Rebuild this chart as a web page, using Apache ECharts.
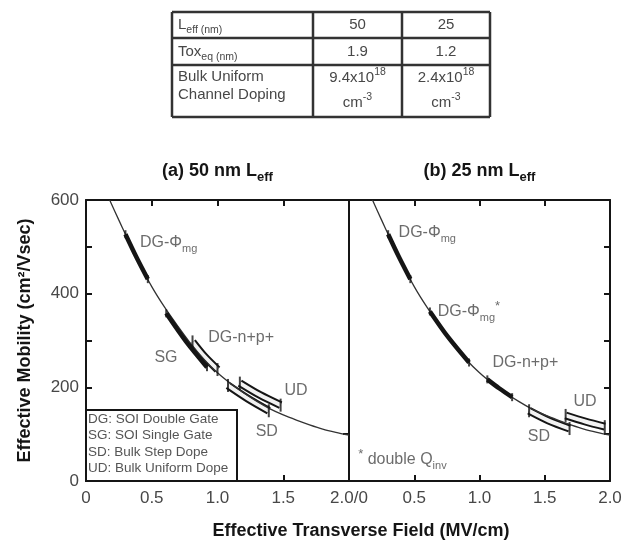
<!DOCTYPE html>
<html><head><meta charset="utf-8">
<script src="https://cdn.jsdelivr.net/npm/echarts@6/dist/echarts.min.js"></script>
<style>html,body{margin:0;padding:0;background:#fff}#c{width:625px;height:546px}</style>
</head><body><div id="c"></div>
<script>
// ---------- data ----------
const panelTitles = ['(a) 50 nm L{s|eff}', '(b) 25 nm L{s|eff}'];
const xAxisTitle = 'Effective Transverse Field (MV/cm)';
const yAxisTitle = 'Effective Mobility (cm\u00b2/Vsec)';
const fieldTickLabelsA = ['0', '0.5', '1.0', '1.5', '2.0/0'];
const fieldTickLabelsB = ['', '0.5', '1.0', '1.5', '2.0'];
const mobilityTickLabels = ['0', '200', '400', '600'];

// universal mobility curve (both panels)
const curveField    = [0.18, 0.25, 0.30, 0.40, 0.50, 0.60, 0.70, 0.80, 0.90, 1.00, 1.10, 1.20, 1.30, 1.40, 1.50, 1.60, 1.70, 1.80, 1.90, 2.00];
const curveMobility = [600, 557, 527, 469, 415, 370, 330, 292, 259, 231, 208, 188, 170, 154, 141, 130, 120, 111, 104, 98];

// panel (a) 50 nm devices
const aDGmgField = [0.30, 0.38, 0.47];   const aDGmgMob = [527, 480, 431];
const aSGField   = [0.61, 0.76, 0.92];   const aSGMob   = [358, 298, 243];
const aDGnpField = [0.81, 0.90, 1.00];   const aDGnpMob = [297, 266, 238];
const aSDField   = [1.08, 1.23, 1.39];   const aSDMob   = [204, 176, 150];
const aUDField   = [1.17, 1.32, 1.48];   const aUDMob   = [209, 184, 162];

// panel (b) 25 nm devices
const bDGmgField     = [0.30, 0.38, 0.47]; const bDGmgMob     = [527, 480, 431];
const bDGmgStarField = [0.62, 0.76, 0.92]; const bDGmgStarMob = [362, 307, 253];
const bDGnpField     = [1.06, 1.15, 1.25]; const bDGnpMob     = [217, 198, 179];
const bSDField       = [1.38, 1.53, 1.69]; const bSDMob       = [150, 129, 112];
const bUDField       = [1.66, 1.81, 1.96]; const bUDMob       = [140, 127, 116];

// annotation texts and anchors (field, mobility)
const annotA      = ['DG-\u03a6{s|mg}', 'DG-n+p+', 'SG', 'UD', 'SD'];
const annotAField = [0.41, 0.93, 0.52, 1.51, 1.29];
const annotAMob   = [510, 307, 263, 194, 105];
const annotB      = ['DG-\u03a6{s|mg}', 'DG-\u03a6{s|mg}{p|*}', 'DG-n+p+', 'UD', 'SD', '{p|*} double Q{s|inv}'];
const annotBField = [0.38, 0.68, 1.10, 1.72, 1.37, 0.07];
const annotBMob   = [530, 361, 252, 169, 94, 45];

const legendLines = ['DG: SOI Double Gate', 'SG: SOI Single Gate', 'SD: Bulk Step Dope', 'UD: Bulk Uniform Dope'];

// table
const tableRowLabels = [['L{s|eff (nm)}'], ['Tox{s|eq (nm)}'], ['Bulk Uniform', 'Channel Doping']];
const table50 = [['50'], ['1.9'], ['9.4x10{p|18}', 'cm{p|-3}']];
const table25 = [['25'], ['1.2'], ['2.4x10{p|18}', 'cm{p|-3}']];

// ---------- chart ----------
const FONT = '"Liberation Sans", Arial, sans-serif';
const INK = '#151515';
const GREY = '#474747';
const pts = (f, m) => f.map((v, i) => [v, m[i]]);
const ends = (f, m) => [[f[0], m[0]], [f[f.length - 1], m[m.length - 1]]];

const axisLine = {show: true, onZero: false, lineStyle: {color: INK, width: 2}};
const tick = {show: true, inside: true, length: 6, lineStyle: {color: INK, width: 2}};
const lbl = {fontSize: 17, color: GREY, fontFamily: FONT};

function xBottom(grid, labels) {
  return {type: 'value', gridIndex: grid, min: 0, max: 2, interval: 0.5, position: 'bottom',
    axisLine, axisTick: tick, splitLine: {show: false},
    axisLabel: Object.assign({margin: 9, showMinLabel: true, showMaxLabel: true,
      formatter: v => labels[Math.round(v / 0.5)]}, lbl)};
}
function xTop(grid, title) {
  return {type: 'value', gridIndex: grid, min: 0, max: 2, interval: 0.5, position: 'top',
    axisLine, axisTick: tick, axisLabel: {show: false}, splitLine: {show: false},
    name: title, nameLocation: 'middle', nameGap: 16,
    nameTextStyle: {fontSize: 18, fontWeight: 'bold', color: INK, fontFamily: FONT, lineHeight: 26,
      rich: {s: {fontSize: 13, fontWeight: 'bold', color: INK, fontFamily: FONT, verticalAlign: 'bottom'}}}};
}
function yAx(grid, pos, extra) {
  return Object.assign({type: 'value', gridIndex: grid, min: 0, max: 600, interval: 100, position: pos,
    axisLine, axisTick: tick, axisLabel: {show: false}, splitLine: {show: false}}, extra || {});
}

const series = [];
function curve(xi, yi) {
  series.push({type: 'line', xAxisIndex: xi, yAxisIndex: yi, data: pts(curveField, curveMobility),
    smooth: 0.3, showSymbol: false, silent: true,
    lineStyle: {color: '#333', width: 1.3}, z: 4.5});
}
function thick(xi, yi, f, m) {
  series.push({type: 'line', xAxisIndex: xi, yAxisIndex: yi, data: pts(f, m), smooth: 0.3,
    showSymbol: false, lineStyle: {color: INK, width: 4.5}, z: 5});
  series.push({type: 'scatter', xAxisIndex: xi, yAxisIndex: yi, data: ends(f, m),
    symbol: 'rect', symbolSize: [2, 8], itemStyle: {color: INK}, z: 5});
}
function band(xi, yi, f, m) {
  series.push({type: 'line', xAxisIndex: xi, yAxisIndex: yi, data: pts(f, m), smooth: 0.3,
    showSymbol: false, lineStyle: {color: INK, width: 8}, z: 3});
  series.push({type: 'line', xAxisIndex: xi, yAxisIndex: yi, data: pts(f, m), smooth: 0.3,
    showSymbol: false, lineStyle: {color: '#f2f2f2', width: 4}, z: 4});
  series.push({type: 'scatter', xAxisIndex: xi, yAxisIndex: yi, data: ends(f, m),
    symbol: 'rect', symbolSize: [2, 13], itemStyle: {color: INK}, z: 5});
}
function annots(xi, yi, texts, f, m) {
  series.push({type: 'scatter', xAxisIndex: xi, yAxisIndex: yi, symbolSize: 0, silent: true, z: 6,
    data: texts.map((t, i) => ({name: t, value: [f[i], m[i]]})),
    label: {show: true, position: 'right', distance: 0, formatter: p => p.name,
      fontSize: 16, color: GREY, fontFamily: FONT, lineHeight: 24,
      rich: {s: {fontSize: 11, color: GREY, fontFamily: FONT, verticalAlign: 'bottom'},
             p: {fontSize: 13, color: GREY, fontFamily: FONT, verticalAlign: 'top'}}}});
}

curve(0, 0); curve(1, 2);
thick(0, 0, aDGmgField, aDGmgMob);
thick(0, 0, aSGField, aSGMob);
band(0, 0, aDGnpField, aDGnpMob);
band(0, 0, aSDField, aSDMob);
band(0, 0, aUDField, aUDMob);
thick(1, 2, bDGmgField, bDGmgMob);
thick(1, 2, bDGmgStarField, bDGmgStarMob);
thick(1, 2, bDGnpField, bDGnpMob);
band(1, 2, bSDField, bSDMob);
band(1, 2, bUDField, bUDMob);
annots(0, 0, annotA, annotAField, annotAMob);
annots(1, 2, annotB, annotBField, annotBMob);

// table graphics
const tCols = [172, 313, 402, 490];
const tRows = [12, 38, 65, 117];
const graphic = [];
tCols.forEach(x => graphic.push({type: 'line', shape: {x1: x, y1: tRows[0], x2: x, y2: tRows[3]},
  style: {stroke: '#333', lineWidth: 2.5}}));
tRows.forEach(y => graphic.push({type: 'line', shape: {x1: tCols[0], y1: y, x2: tCols[3], y2: y},
  style: {stroke: '#333', lineWidth: 2.5}}));
const tRich = {s: {fontSize: 10.5, fill: GREY, fontFamily: FONT, verticalAlign: 'bottom'},
               p: {fontSize: 10.5, fill: GREY, fontFamily: FONT, verticalAlign: 'top'}};
function tText(text, x, y, align) {
  graphic.push({type: 'text', x, y, style: {text, align, verticalAlign: 'middle', fontSize: 15,
    fontFamily: FONT, fill: GREY, lineHeight: 22, rich: tRich}});
}
const rowY = [[25], [51.5], [77, 95]];
const valY = [[25], [51.5], [78, 103]];
tableRowLabels.forEach((r, i) => r.forEach((t, j) => tText(t, 178, rowY[i][j], 'left')));
table50.forEach((r, i) => r.forEach((t, j) => tText(t, (tCols[1] + tCols[2]) / 2, valY[i][j], 'center')));
table25.forEach((r, i) => r.forEach((t, j) => tText(t, (tCols[2] + tCols[3]) / 2, valY[i][j], 'center')));

// legend box
graphic.push({type: 'rect', shape: {x: 86, y: 410, width: 151, height: 71},
  style: {fill: '#fff', stroke: INK, lineWidth: 2}, z: 10});
graphic.push({type: 'text', x: 88, y: 411, z: 11, style: {text: legendLines.join('\n'),
  fontSize: 13.5, fontFamily: FONT, fill: '#555', lineHeight: 16.5, align: 'left', verticalAlign: 'top'}});

// x-axis title
graphic.push({type: 'text', x: 361, y: 531, style: {text: xAxisTitle, align: 'center', verticalAlign: 'middle',
  fontSize: 18, fontWeight: 'bold', fontFamily: FONT, fill: INK}});

const chart = echarts.init(document.getElementById('c'), null, {renderer: 'canvas'});
chart.setOption({
  animation: false,
  backgroundColor: '#fff',
  grid: [{left: 86, top: 200, width: 263, height: 281}, {left: 349, top: 200, width: 261, height: 281}],
  xAxis: [xBottom(0, fieldTickLabelsA), xBottom(1, fieldTickLabelsB), xTop(0, panelTitles[0]), xTop(1, panelTitles[1])],
  yAxis: [
    yAx(0, 'left', {axisLabel: Object.assign({show: true, margin: 7,
      formatter: v => (v % 200 === 0 ? mobilityTickLabels[v / 200] : '')}, lbl),
      name: yAxisTitle, nameLocation: 'middle', nameGap: 52, nameRotate: 90,
      nameTextStyle: {fontSize: 18, fontWeight: 'bold', color: INK, fontFamily: FONT}}),
    yAx(0, 'right', {axisTick: Object.assign({}, tick, {customValues: [100]})}),
    yAx(1, 'left', {axisTick: {show: false}}),
    yAx(1, 'right')
  ],
  series,
  graphic
});
</script></body></html>
